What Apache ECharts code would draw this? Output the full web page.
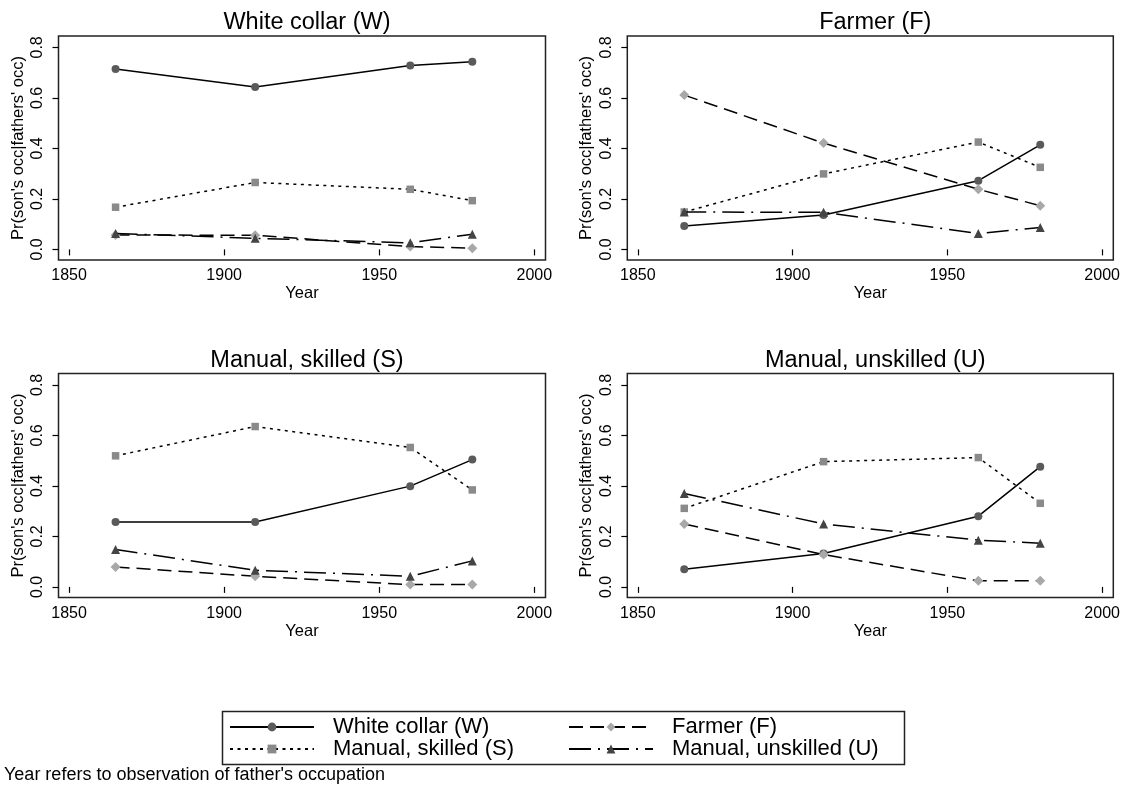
<!DOCTYPE html>
<html>
<head>
<meta charset="utf-8">
<script src="https://cdn.jsdelivr.net/npm/echarts@6/dist/echarts.min.js"></script>
<style>
html,body{margin:0;padding:0;background:#fff;}
#chart{width:1127px;height:785px;}
</style>
</head>
<body>
<div id="chart"></div>
<script>
// ---- data ----
const years = [1865, 1910, 1960, 1980];
const occNames = ['White collar (W)', 'Farmer (F)', 'Manual, skilled (S)', 'Manual, unskilled (U)'];
const panelTitles = ['White collar (W)', 'Farmer (F)', 'Manual, skilled (S)', 'Manual, unskilled (U)'];
const xTicks = [1850, 1900, 1950, 2000];
const yTicks = [0, 0.2, 0.4, 0.6, 0.8];
const xTitle = 'Year';
const yTitle = "Pr(son's occ|fathers' occ)";
const note = "Year refers to observation of father's occupation";

// father: White collar
const white_W = [0.714, 0.643, 0.728, 0.743];
const white_F = [0.057, 0.056, 0.011, 0.005];
const white_S = [0.167, 0.265, 0.238, 0.193];
const white_U = [0.063, 0.044, 0.026, 0.060];
// father: Farmer
const farmer_W = [0.093, 0.136, 0.272, 0.414];
const farmer_F = [0.611, 0.421, 0.238, 0.173];
const farmer_S = [0.148, 0.299, 0.425, 0.325];
const farmer_U = [0.148, 0.147, 0.063, 0.087];
// father: Manual, skilled
const skilled_W = [0.257, 0.257, 0.399, 0.504];
const skilled_F = [0.079, 0.042, 0.009, 0.009];
const skilled_S = [0.519, 0.635, 0.552, 0.384];
const skilled_U = [0.148, 0.066, 0.042, 0.103];
// father: Manual, unskilled
const unskilled_W = [0.070, 0.132, 0.280, 0.476];
const unskilled_F = [0.249, 0.128, 0.024, 0.024];
const unskilled_S = [0.311, 0.496, 0.512, 0.331];
const unskilled_U = [0.370, 0.249, 0.185, 0.173];

const panels = [
  [white_W, white_F, white_S, white_U],
  [farmer_W, farmer_F, farmer_S, farmer_U],
  [skilled_W, skilled_F, skilled_S, skilled_U],
  [unskilled_W, unskilled_F, unskilled_S, unskilled_U]
];

// ---- styles ----
const FONT = '"Liberation Sans", Arial, Helvetica, sans-serif';
const seriesStyle = [
  {symbol: 'circle',   symbolSize: 8,   color: '#5a5a5a', dash: 'solid'},
  {symbol: 'diamond',  symbolSize: 10,  color: '#a8a8a8', dash: [14, 7]},
  {symbol: 'rect',     symbolSize: 7.5, color: '#8a8a8a', dash: [3, 4.5]},
  {symbol: 'triangle', symbolSize: 9,   color: '#444444', dash: [22, 7, 2, 7]}
];

const grids = [
  {left: 58.5, top: 36, width: 487, height: 224},
  {left: 627.3, top: 36, width: 486, height: 224},
  {left: 58.5, top: 373.5, width: 487, height: 224},
  {left: 627.3, top: 373.5, width: 486, height: 224}
];

const option = {
  animation: false,
  backgroundColor: '#ffffff',
  textStyle: {fontFamily: FONT, color: '#000'},
  title: grids.map((g, i) => ({
    text: panelTitles[i],
    left: g.left + g.width / 2,
    top: g.top - 30,
    textAlign: 'center',
    textStyle: {fontFamily: FONT, fontSize: 23.5, fontWeight: 'normal', color: '#000'}
  })).concat([{
    text: note,
    left: 4,
    top: 766,
    padding: 0,
    textStyle: {fontFamily: FONT, fontSize: 18, fontWeight: 'normal', color: '#000'}
  }]),
  grid: grids.map(g => Object.assign({show: true, borderColor: '#222', borderWidth: 1.5, backgroundColor: '#fff'}, g)),
  xAxis: grids.map((g, i) => ({
    type: 'value', gridIndex: i, min: 1846.6, max: 2003.6,
    name: xTitle, nameLocation: 'middle', nameGap: 25,
    nameTextStyle: {fontFamily: FONT, fontSize: 16.5, color: '#000'},
    axisLine: {show: false},
    axisTick: {show: true, length: 6, lineStyle: {color: '#000', width: 1.2}, customValues: xTicks},
    axisLabel: {fontFamily: FONT, fontSize: 16, color: '#000', margin: 8, customValues: xTicks,
      formatter: v => String(Math.round(v))},
    splitLine: {show: false}
  })),
  yAxis: grids.map((g, i) => ({
    type: 'value', gridIndex: i, min: -0.042, max: 0.845,
    name: yTitle, nameLocation: 'middle', nameGap: 32,
    nameTextStyle: {fontFamily: FONT, fontSize: 16.5, color: '#000'},
    axisLine: {show: false},
    axisTick: {show: true, length: 6, lineStyle: {color: '#000', width: 1.2}, customValues: yTicks},
    axisLabel: {fontFamily: FONT, fontSize: 16, color: '#000', margin: 13, rotate: 90,
      customValues: yTicks, formatter: v => Number(v).toFixed(1)},
    splitLine: {show: false}
  })),
  legend: [
    {data: [occNames[0], occNames[2]]},
    {data: [occNames[1], occNames[3]]}
  ].map((l, k) => Object.assign({
    orient: 'vertical',
    left: k === 0 ? 229 : 568,
    top: 716,
    itemWidth: 84, itemHeight: 11, itemGap: 0,
    selectedMode: false,
    padding: 0,
    textStyle: {fontFamily: FONT, fontSize: 22, color: '#000', lineHeight: 20, padding: [0, 0, 0, 14]}
  }, l)),
  graphic: [{
    type: 'rect', left: 220, top: 709,
    shape: {x: 0, y: 0, width: 682, height: 53},
    style: {fill: 'none', stroke: '#222', lineWidth: 1.5}
  }],
  series: []
};

panels.forEach((p, i) => {
  p.forEach((vals, j) => {
    const s = seriesStyle[j];
    option.series.push({
      type: 'line', name: occNames[j], xAxisIndex: i, yAxisIndex: i,
      data: years.map((y, k) => [y, vals[k]]),
      symbol: s.symbol, symbolSize: s.symbolSize,
      itemStyle: {color: s.color},
      lineStyle: {color: '#000', width: 1.5, type: s.dash},
      emphasis: {disabled: true},
      z: 2 + j
    });
  });
});

const chart = echarts.init(document.getElementById('chart'), null, {renderer: 'canvas'});
chart.setOption(option);
</script>
</body>
</html>
